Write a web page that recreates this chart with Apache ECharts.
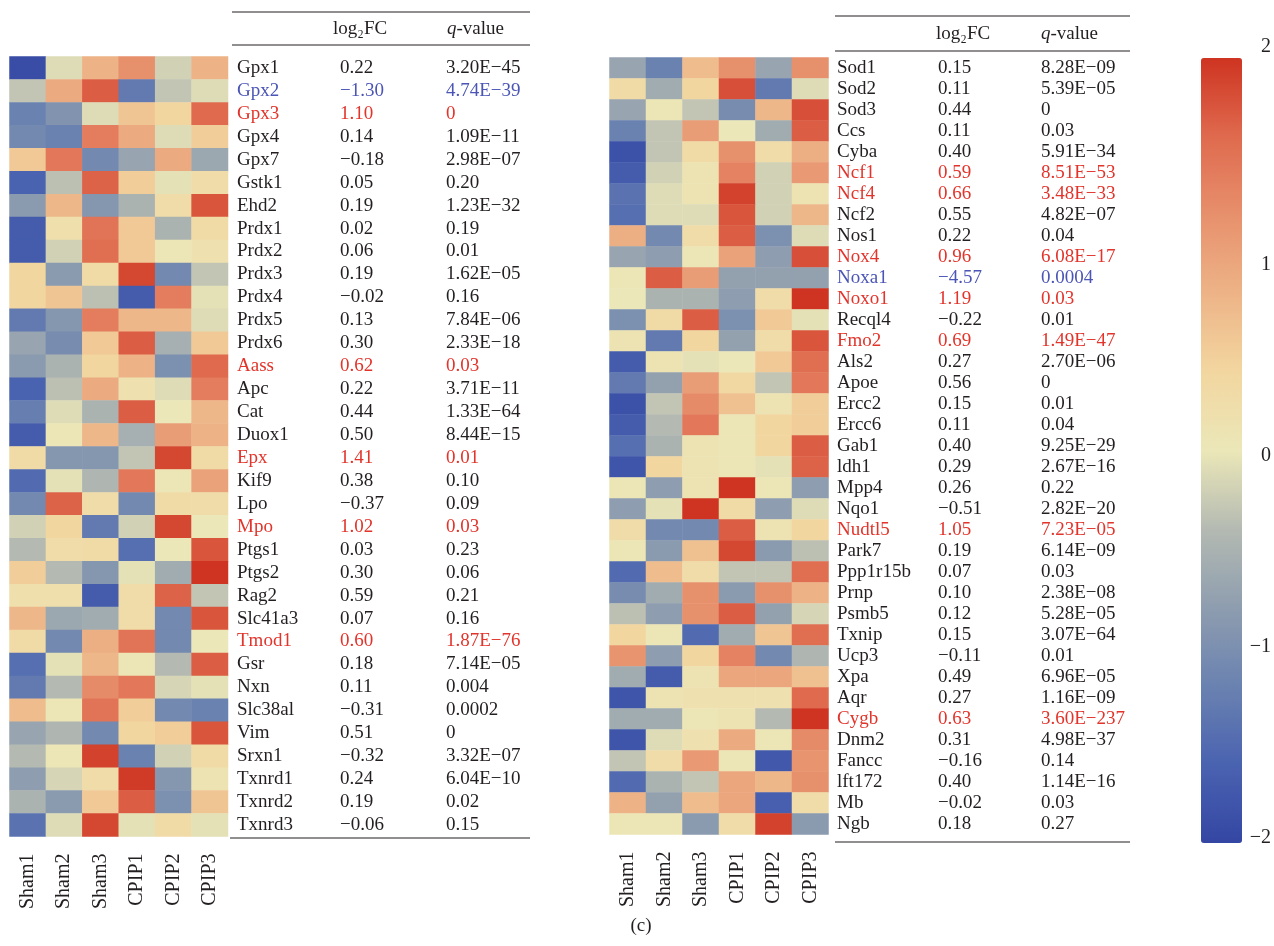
<!DOCTYPE html>
<html>
<head>
<meta charset="utf-8">
<script src="https://cdn.jsdelivr.net/npm/echarts@6/dist/echarts.min.js"></script>
<style>
  html, body { margin: 0; padding: 0; background: #fff; }
  #main { width: 1274px; height: 946px; }
</style>
</head>
<body>
<div id="main"></div>
<script>
// samples (columns of both heatmaps)
var samples = ['Sham1', 'Sham2', 'Sham3', 'CPIP1', 'CPIP2', 'CPIP3'];

// left panel
var genesL = ['Gpx1','Gpx2','Gpx3','Gpx4','Gpx7','Gstk1','Ehd2','Prdx1','Prdx2','Prdx3','Prdx4','Prdx5','Prdx6',
  'Aass','Apc','Cat','Duox1','Epx','Kif9','Lpo','Mpo','Ptgs1','Ptgs2','Rag2','Slc41a3','Tmod1','Gsr','Nxn',
  'Slc38al','Vim','Srxn1','Txnrd1','Txnrd2','Txnrd3'];
var fcL = ['0.22','−1.30','1.10','0.14','−0.18','0.05','0.19','0.02','0.06','0.19','−0.02','0.13','0.30',
  '0.62','0.22','0.44','0.50','1.41','0.38','−0.37','1.02','0.03','0.30','0.59','0.07','0.60','0.18','0.11',
  '−0.31','0.51','−0.32','0.24','0.19','−0.06'];
var qL = ['3.20E−45','4.74E−39','0','1.09E−11','2.98E−07','0.20','1.23E−32','0.19','0.01','1.62E−05','0.16',
  '7.84E−06','2.33E−18','0.03','3.71E−11','1.33E−64','8.44E−15','0.01','0.10','0.09','0.03','0.23','0.06',
  '0.21','0.16','1.87E−76','7.14E−05','0.004','0.0002','0','3.32E−07','6.04E−10','0.02','0.15'];
// u = highlighted up (red), d = highlighted down (blue)
var markL = ['','d','u','','','','','','','','','','','u','','','','u','','','u','','','','','u','','','','','','','',''];
var zL = [
  [-1.9, -0.1, 0.8, 1.2, -0.2, 0.8],
  [-0.3, 0.9, 1.7, -1.3, -0.3, -0.1],
  [-1.2, -0.95, -0.1, 0.6, 0.4, 1.6],
  [-1.1, -1.2, 1.4, 0.9, -0.1, 0.5],
  [0.55, 1.45, -1.1, -0.7, 0.9, -0.65],
  [-1.6, -0.35, 1.65, 0.5, -0.05, 0.25],
  [-0.85, 0.75, -0.9, -0.5, 0.25, 1.75],
  [-1.7, 0.2, 1.5, 0.55, -0.5, 0.3],
  [-1.7, -0.2, 1.55, 0.55, 0.05, 0.15],
  [0.4, -0.85, 0.3, 1.85, -1.1, -0.3],
  [0.4, 0.6, -0.35, -1.7, 1.4, -0.05],
  [-1.3, -0.9, 1.4, 0.75, 0.75, -0.1],
  [-0.7, -1.05, 0.55, 1.7, -0.55, 0.55],
  [-0.85, -0.5, 0.4, 0.8, -1.0, 1.6],
  [-1.6, -0.35, 0.9, 0.15, -0.1, 1.4],
  [-1.25, -0.1, -0.5, 1.7, 0, 0.75],
  [-1.7, 0.05, 0.75, -0.55, 1.05, 0.8],
  [0.3, -0.9, -0.9, -0.3, 1.85, 0.3],
  [-1.5, -0.05, -0.45, 1.45, 0.05, 1.0],
  [-1.1, 1.65, 0.25, -1.1, 0.3, 0.25],
  [-0.2, 0.4, -1.3, -0.2, 1.85, 0],
  [-0.4, 0.25, 0.3, -1.45, 0, 1.75],
  [0.5, -0.4, -0.9, -0.05, -0.6, 2.0],
  [0.2, 0.2, -1.7, 0.25, 1.65, -0.3],
  [0.75, -0.65, -0.6, 0.25, -1.1, 1.75],
  [0.3, -1.1, 0.85, 1.5, -1.1, 0],
  [-1.45, -0.05, 0.75, 0.05, -0.4, 1.7],
  [-1.3, -0.4, 1.25, 1.45, -0.15, -0.05],
  [0.7, 0.05, 1.5, 0.5, -1.1, -1.2],
  [-0.7, -0.45, -1.1, 0.4, 0.5, 1.75],
  [-0.4, 0.05, 1.9, -1.2, -0.2, 0.3],
  [-0.8, -0.15, 0.25, 1.95, -0.9, 0.1],
  [-0.5, -0.85, 0.55, 1.7, -1.0, 0.6],
  [-1.4, -0.1, 1.85, -0.05, 0.3, -0.05]
];

// right panel
var genesR = ['Sod1','Sod2','Sod3','Ccs','Cyba','Ncf1','Ncf4','Ncf2','Nos1','Nox4','Noxa1','Noxo1','Recql4',
  'Fmo2','Als2','Apoe','Ercc2','Ercc6','Gab1','ldh1','Mpp4','Nqo1','Nudtl5','Park7','Ppp1r15b','Prnp','Psmb5',
  'Txnip','Ucp3','Xpa','Aqr','Cygb','Dnm2','Fancc','lft172','Mb','Ngb'];
var fcR = ['0.15','0.11','0.44','0.11','0.40','0.59','0.66','0.55','0.22','0.96','−4.57','1.19','−0.22',
  '0.69','0.27','0.56','0.15','0.11','0.40','0.29','0.26','−0.51','1.05','0.19','0.07','0.10','0.12','0.15',
  '−0.11','0.49','0.27','0.63','0.31','−0.16','0.40','−0.02','0.18'];
var qR = ['8.28E−09','5.39E−05','0','0.03','5.91E−34','8.51E−53','3.48E−33','4.82E−07','0.04','6.08E−17',
  '0.0004','0.03','0.01','1.49E−47','2.70E−06','0','0.01','0.04','9.25E−29','2.67E−16','0.22','2.82E−20',
  '7.23E−05','6.14E−09','0.03','2.38E−08','5.28E−05','3.07E−64','0.01','6.96E−05','1.16E−09','3.60E−237',
  '4.98E−37','0.14','1.14E−16','0.03','0.27'];
var markR = ['','','','','','u','u','','','u','d','u','','u','','','','','','','','','u','','','','','','','','','u','','','','',''];
var zR = [
  [-0.7, -1.2, 0.7, 1.2, -0.7, 1.2],
  [0.3, -0.6, 0.4, 1.8, -1.3, -0.1],
  [-0.7, 0.05, -0.3, -1.05, 0.75, 1.8],
  [-1.2, -0.3, 1.05, 0, -0.6, 1.7],
  [-1.85, -0.3, 0.3, 1.2, 0.25, 0.85],
  [-1.7, -0.2, 0.1, 1.35, -0.2, 1.1],
  [-1.4, -0.1, 0.1, 1.9, -0.2, 0.1],
  [-1.45, -0.1, -0.1, 1.75, -0.2, 0.75],
  [0.85, -1.1, 0.25, 1.7, -1.0, -0.1],
  [-0.7, -0.8, 0.05, 1.0, -0.8, 1.8],
  [0.05, 1.7, 1.05, -0.75, -0.75, -0.75],
  [0, -0.5, -0.5, -0.8, 0.25, 2.1],
  [-1.0, 0.3, 1.7, -1.0, 0.55, -0.05],
  [0.1, -1.3, 0.4, -0.75, 0.25, 1.75],
  [-1.7, 0.1, -0.05, 0, 0.55, 1.55],
  [-1.3, -0.75, 1.05, 0.35, -0.3, 1.45],
  [-1.85, -0.3, 1.25, 0.65, 0.1, 0.5],
  [-1.7, -0.4, 1.45, 0.05, 0.4, 0.5],
  [-1.45, -0.5, 0.1, 0.05, 0.4, 1.7],
  [-1.8, 0.4, 0.1, 0.05, -0.05, 1.65],
  [0.05, -0.8, 0.1, 2.0, 0.05, -0.8],
  [-0.8, -0.05, 2.0, 0.3, -0.8, -0.1],
  [0.25, -1.1, -1.1, 1.7, 0.1, 0.4],
  [0.05, -0.85, 0.65, 1.85, -0.85, -0.35],
  [-1.5, 0.7, 0.25, -0.3, -0.3, 1.55],
  [-1.05, -0.6, 1.2, -0.85, 1.2, 0.8],
  [-0.35, -0.8, 1.2, 1.7, -0.75, -0.15],
  [0.4, 0.05, -1.5, -0.6, 0.6, 1.55],
  [1.15, -0.8, 0.4, 1.35, -1.1, -0.45],
  [-0.6, -1.7, 0.1, 0.95, 0.95, 0.65],
  [-1.8, 0.1, 0.15, 0.15, 0.15, 1.6],
  [-0.6, -0.6, 0.05, 0.1, -0.4, 2.1],
  [-1.8, -0.1, 0.15, 0.9, 0.05, 1.25],
  [-0.3, 0.25, 1.1, 0.05, -1.75, 1.15],
  [-1.5, -0.5, -0.3, 0.95, 0.75, 1.2],
  [0.8, -0.75, 0.7, 0.95, -1.65, 0.25],
  [0.05, 0.05, -0.85, 0.25, 1.9, -0.85]
];

// colour bar ticks
var barTicks = [-2, -1, 0, 1, 2];

var FONT = '"Liberation Serif", "DejaVu Serif", serif';
var INK = '#231f20';
var RED = '#e2342b';
var BLUE = '#4b55b6';

function cells(z) {
  var out = [];
  z.forEach(function (row, i) {
    row.forEach(function (v, j) { out.push([j, i, v]); });
  });
  return out;
}

function richFor(nameW, fcW) {
  var r = {};
  [['', INK], ['u', RED], ['d', BLUE]].forEach(function (p) {
    r['n' + p[0]] = { width: nameW, fontSize: 19, fontFamily: FONT, color: p[1] };
    r['f' + p[0]] = { width: fcW, fontSize: 19, fontFamily: FONT, color: p[1] };
    r['q' + p[0]] = { fontSize: 19, fontFamily: FONT, color: p[1] };
  });
  return r;
}

function tableLabel(genes, fc, q, mark) {
  return function (val, idx) {
    var m = mark[idx];
    return '{n' + m + '|' + genes[idx] + '}{f' + m + '|' + fc[idx] + '}{q' + m + '|' + q[idx] + '}';
  };
}

var xCommon = {
  type: 'category',
  data: samples,
  axisLine: { show: false },
  axisTick: { show: false },
  splitLine: { show: false },
  axisLabel: { rotate: 90, margin: 17, fontSize: 20, fontFamily: FONT, color: INK, interval: 0 }
};

var chart = echarts.init(document.getElementById('main'));
var option = {
  backgroundColor: '#fff',
  animation: false,
  grid: [
    { left: 9.5, top: 56.5, width: 218.5, height: 780 },
    { left: 609.5, top: 57.5, width: 219, height: 777 },
    { left: 1201, top: 74, width: 41, height: 764 }
  ],
  xAxis: [
    Object.assign({ gridIndex: 0 }, xCommon),
    Object.assign({ gridIndex: 1 }, xCommon),
    { gridIndex: 2, type: 'category', data: [''], show: false }
  ],
  yAxis: [
    {
      gridIndex: 0, type: 'category', data: genesL, inverse: true, position: 'right',
      axisLine: { show: false }, axisTick: { show: false }, splitLine: { show: false },
      axisLabel: { interval: 0, margin: 9, formatter: tableLabel(genesL, fcL, qL, markL), rich: richFor(103, 106) }
    },
    {
      gridIndex: 1, type: 'category', data: genesR, inverse: true, position: 'right',
      axisLine: { show: false }, axisTick: { show: false }, splitLine: { show: false },
      axisLabel: { interval: 0, margin: 8.5, formatter: tableLabel(genesR, fcR, qR, markR), rich: richFor(101, 103) }
    },
    {
      gridIndex: 2, type: 'value', min: barTicks[0], max: barTicks[barTicks.length - 1], interval: 1,
      position: 'right',
      axisLine: { show: false }, axisTick: { show: false }, splitLine: { show: false },
      axisLabel: {
        margin: 30, align: 'right', fontSize: 20, fontFamily: FONT, color: INK,
        formatter: function (v) {
          var s = v < 0 ? '−' + Math.abs(v) : String(v);
          return v === 2 ? '{top|' + s + '}' : s;
        },
        rich: { top: { fontSize: 20, fontFamily: FONT, color: INK, padding: [0, 0, 54, 0] } }
      }
    }
  ],
  visualMap: {
    type: 'continuous',
    min: -2,
    max: 2,
    calculable: false,
    hoverLink: false,
    orient: 'vertical',
    left: 1201,
    top: 58,
    padding: 0,
    itemWidth: 41,
    itemHeight: 785,
    text: null,
    seriesIndex: [0, 1],
    inRange: {
      color: ['#3446a3', '#4a63b0', '#6a82b0', '#8e9daf', '#b4bab2', '#ebe7b8',
              '#f2d6a0', '#edb387', '#e7906c', '#df6a4e', '#ce3421']
    }
  },
  graphic: [
    // left table rules
    { type: 'line', shape: { x1: 232, y1: 12, x2: 530, y2: 12 }, style: { stroke: INK, lineWidth: 1.2 } },
    { type: 'line', shape: { x1: 232, y1: 45, x2: 530, y2: 45 }, style: { stroke: INK, lineWidth: 1.2 } },
    { type: 'line', shape: { x1: 230, y1: 838, x2: 530, y2: 838 }, style: { stroke: INK, lineWidth: 1.2 } },
    // right table rules
    { type: 'line', shape: { x1: 835, y1: 16, x2: 1130, y2: 16 }, style: { stroke: INK, lineWidth: 1.2 } },
    { type: 'line', shape: { x1: 835, y1: 51, x2: 1130, y2: 51 }, style: { stroke: INK, lineWidth: 1.2 } },
    { type: 'line', shape: { x1: 835, y1: 842, x2: 1130, y2: 842 }, style: { stroke: INK, lineWidth: 1.2 } },
    // headers
    { type: 'text', x: 333, y: 29, style: { text: 'log₂FC', font: '19px ' + FONT, fill: INK, verticalAlign: 'middle' } },
    { type: 'text', x: 447, y: 29, style: { text: '{i|q}-value', font: '19px ' + FONT, fill: INK, verticalAlign: 'middle',
        rich: { i: { fontStyle: 'italic', fontSize: 19, fontFamily: FONT, fill: INK } } } },
    { type: 'text', x: 936, y: 34, style: { text: 'log₂FC', font: '19px ' + FONT, fill: INK, verticalAlign: 'middle' } },
    { type: 'text', x: 1041, y: 34, style: { text: '{i|q}-value', font: '19px ' + FONT, fill: INK, verticalAlign: 'middle',
        rich: { i: { fontStyle: 'italic', fontSize: 19, fontFamily: FONT, fill: INK } } } },
    // panel tag
    { type: 'text', x: 641, y: 926, style: { text: '(c)', font: '19px ' + FONT, fill: INK, align: 'center', verticalAlign: 'middle' } }
  ],
  series: [
    { type: 'heatmap', xAxisIndex: 0, yAxisIndex: 0, data: cells(zL), itemStyle: { borderWidth: 0 } },
    { type: 'heatmap', xAxisIndex: 1, yAxisIndex: 1, data: cells(zR), itemStyle: { borderWidth: 0 } }
  ]
};
chart.setOption(option);
</script>
</body>
</html>
